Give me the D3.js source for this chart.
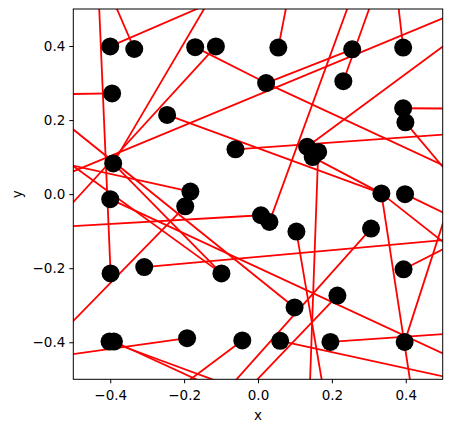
<!DOCTYPE html>
<html><head><meta charset="utf-8">
<script src="https://cdn.jsdelivr.net/npm/d3@7"></script>
<style>
body{margin:0;background:#fff}
svg{display:block}
text{font-family:"DejaVu Sans",sans-serif}
</style>
</head><body>
<svg id="chart" width="452" height="432"></svg>
<script>
// Scatter points (data coordinates)
const pointX = [-0.400,-0.335,-0.170,-0.114,-0.395,-0.246,0.055,0.255,0.393,0.022,0.231,0.393,0.399,
  -0.392,-0.061,-0.183,-0.400,-0.197,0.133,0.163,0.148,0.334,0.398,0.008,0.031,0.104,0.306,
  -0.399,-0.308,-0.099,-0.402,-0.390,-0.192,-0.0425,0.394,0.215,0.099,0.060,0.196,0.397];
const pointY = [0.399,0.392,0.397,0.399,0.272,0.214,0.396,0.391,0.396,0.300,0.305,0.232,0.194,
  0.083,0.121,0.007,-0.0135,-0.033,0.128,0.114,0.100,0.002,0.000,-0.057,-0.075,-0.101,-0.093,
  -0.214,-0.197,-0.214,-0.398,-0.398,-0.389,-0.395,-0.203,-0.274,-0.306,-0.396,-0.399,-0.399];

// Line segments (data coordinates, start and end)
const segX1 = [-0.432,-0.335,-0.400,-0.392,-0.114,-0.170,0.022,-0.395,-0.536,0.055,0.260,0.231,0.393,0.133,0.393,0.399,-0.061,-0.246,0.148,0.334,0.398,-0.536,-0.536,-0.536,-0.400,-0.536,-0.308,-0.197,-0.392,-0.192,-0.402,-0.390,-0.0425,0.306,0.215,0.163,0.104,0.334,0.397,0.394,0.060,0.196,0.022];
const segY1 = [0.551,0.392,0.399,0.083,0.399,0.397,0.300,0.272,0.0468,0.396,0.551,0.305,0.396,0.128,0.232,0.194,0.121,0.214,0.100,0.002,0.000,0.2035,0.085,0.102,-0.0135,-0.0884,-0.197,-0.033,0.083,-0.389,-0.398,-0.398,-0.395,-0.093,-0.274,0.114,-0.101,0.002,-0.399,-0.203,-0.396,-0.399,0.300];
const segX2 = [-0.399,-0.404,-0.048,-0.116,-0.536,0.022,0.547,-0.536,0.547,0.0853,0.031,0.319,0.375,0.547,0.547,0.547,0.547,0.334,0.334,0.547,0.547,0.099,-0.183,-0.099,0.547,0.008,0.547,-0.536,-0.099,-0.536,0.031,-0.043,-0.259,-0.109,-0.056,0.139,0.182,0.420,0.547,0.547,0.547,0.547,0.255];
const segY2 = [-0.214,0.551,0.551,0.551,-0.061,0.300,0.0565,0.270,0.494,0.551,-0.075,0.551,0.551,0.433,0.231,0.018,0.164,0.002,0.002,-0.165,-0.072,-0.306,0.007,-0.214,-0.452,-0.057,-0.120,-0.379,-0.214,-0.437,-0.557,-0.557,-0.557,-0.557,-0.557,-0.557,-0.557,-0.557,0.065,-0.125,-0.502,-0.375,0.391];

const xTicks = [-0.4,-0.2,0.0,0.2,0.4];
const yTicks = [-0.4,-0.2,0.0,0.2,0.4];
const xDomain = [-0.5,0.5];
const yDomain = [-0.5,0.5];

const svg = d3.select("#chart");
const L = 73.3, T = 9, W = 369.4, H = 370.3;
const FS = "13.5px";
const x = d3.scaleLinear().domain(xDomain).range([L, L + W]);
const y = d3.scaleLinear().domain(yDomain).range([T + H, T]);

svg.append("defs").append("clipPath").attr("id","clip")
  .append("rect").attr("x",L).attr("y",T).attr("width",W).attr("height",H);

const plot = svg.append("g").attr("clip-path","url(#clip)");

const segs = segX1.map((d,i)=>({x1:d,y1:segY1[i],x2:segX2[i],y2:segY2[i]}));
plot.selectAll("line.seg").data(segs).join("line")
  .attr("class","seg")
  .attr("x1",d=>x(d.x1)).attr("y1",d=>y(d.y1))
  .attr("x2",d=>x(d.x2)).attr("y2",d=>y(d.y2))
  .attr("stroke","#ff0000").attr("stroke-width",1.8).attr("stroke-linecap","butt");

const pts = pointX.map((d,i)=>({x:d,y:pointY[i]}));
plot.selectAll("circle").data(pts).join("circle")
  .attr("cx",d=>x(d.x)).attr("cy",d=>y(d.y)).attr("r",9).attr("fill","#000");

const fmt = d3.format(".1f");
const xAxis = svg.append("g").attr("transform",`translate(0,${T+H})`)
  .call(d3.axisBottom(x).tickValues(xTicks).tickSize(4).tickPadding(4).tickFormat(fmt));
const yAxis = svg.append("g").attr("transform",`translate(${L},0)`)
  .call(d3.axisLeft(y).tickValues(yTicks).tickSize(4).tickPadding(4).tickFormat(fmt));
[xAxis,yAxis].forEach(a=>{
  a.select(".domain").remove();
  a.selectAll(".tick line").attr("stroke","#000").attr("stroke-width",1);
  a.selectAll("text").attr("fill","#000").style("font-size",FS).style("font-family","DejaVu Sans");
});
xAxis.selectAll("text").attr("dy","0.93em");

svg.append("rect").attr("x",L).attr("y",T).attr("width",W).attr("height",H)
  .attr("fill","none").attr("stroke","#000").attr("stroke-width",1);

svg.append("text").attr("x",L+W/2).attr("y",419.5).attr("text-anchor","middle")
  .style("font-size",FS).text("x");
svg.append("text").attr("transform",`translate(22,${T+H/2}) rotate(-90)`).attr("text-anchor","middle")
  .style("font-size",FS).text("y");
</script>
</body></html>
